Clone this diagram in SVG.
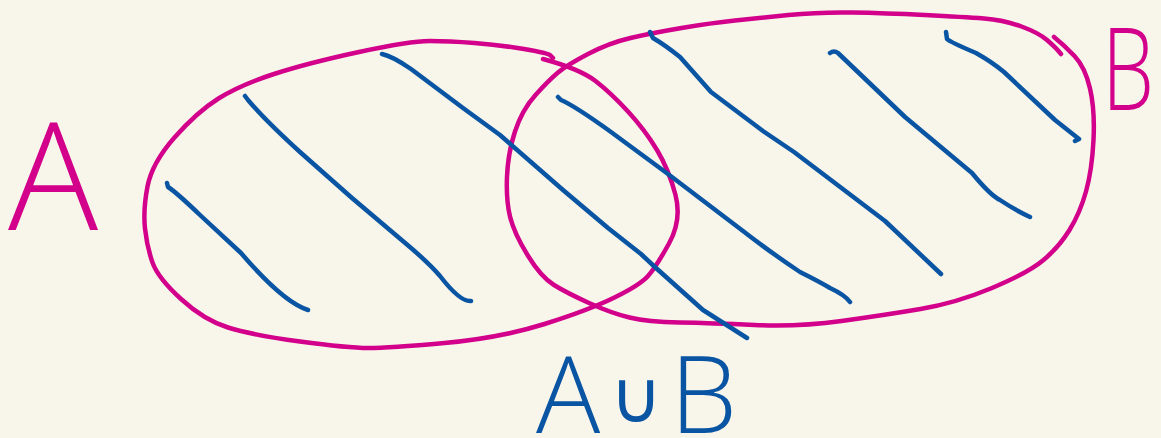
<svg xmlns="http://www.w3.org/2000/svg" width="1161" height="438" viewBox="0 0 1161 438">
<style>
.pink{fill:none;stroke:#d2008a;stroke-width:4.5;stroke-linecap:round;stroke-linejoin:round}
.blue{fill:none;stroke:#0a55a3;stroke-width:4.5;stroke-linecap:round;stroke-linejoin:round}
.lp{fill:#d2008a;font-family:"Open Sans","Liberation Sans",sans-serif;font-weight:300}
.lb{fill:#0a55a3;font-family:"Open Sans","Liberation Sans",sans-serif;font-weight:300;font-size:107px}
.cup{font-family:"DejaVu Sans",sans-serif;font-weight:normal;font-size:72px}
</style>
<rect width="1161" height="438" fill="#f8f6ea"/>
<g id="setA">
<path class="pink" d="M553,58 L550.5,55.5 Q548,53 524,49 Q500,45 474.5,43 Q449,41 429.5,41 Q410,41 359,52 Q308,63 274,74 Q240,85 218.5,98.5 Q197,112 174.5,137.5 Q152,163 147.5,186.5 Q143,210 145,228.5 Q147,247 152.5,262.5 Q158,278 181,299 Q204,320 228,327.5 Q252,335 300,341.5 Q348,348 368.5,348 Q389,348 444.5,343 Q500,338 544.5,324 Q589,310 614.5,297.5 Q640,285 648,276 Q656,267 669,243.5 Q682,220 675.5,195 Q669,170 657,150 Q645,130 628,111.5 Q611,93 595.5,81 Q580,69 543,59"/>
<text class="lp" x="8" y="230" font-size="150">A</text>
</g>
<g id="setB">
<path class="pink" d="M1061,54 L1058,50.5 Q1055,47 1047,40 Q1039,33 1021.5,26.5 Q1004,20 984,18.5 Q964,17 924.5,15 Q885,13 851.5,12.5 Q818,12 788.5,15 Q759,18 735,20.5 Q711,23 681.5,28 Q652,33 630.5,38 Q609,43 588,54 Q567,65 558,72.5 Q549,80 535.5,95 Q522,110 515,131.5 Q508,153 507,176.5 Q506,200 510,216.5 Q514,233 527.5,255 Q541,277 554,285 Q567,293 589,303 Q611,313 629.5,317.5 Q648,322 679.5,322.5 Q711,323 754.5,325 Q798,327 841.5,321 Q885,315 920.5,309 Q956,303 992,288 Q1028,273 1043.5,260 Q1059,247 1069.5,230 Q1080,213 1086,191.5 Q1092,170 1093.5,140 Q1095,110 1090,88.5 Q1085,67 1074.5,56 Q1064,45 1054,37"/>
<text class="lp" x="1102" y="110" font-size="115" textLength="52" lengthAdjust="spacingAndGlyphs">B</text>
</g>
<g id="union">
<text class="lb" x="536" y="433">A<tspan class="cup" x="610" y="422">∪</tspan><tspan x="670" y="433">B</tspan></text>
</g>
<g id="hatching">
<path class="blue" d="M167,183 L168,187 Q176,192 200,215 L241,253 Q283,302 308,310"/>
<path class="blue" d="M245,96 L248,100 Q265,120 300,152 L352,198 L404,242 Q428,262 440,276 Q460,302 471,301"/>
<path class="blue" d="M382,54 Q392,56 411,69 L463,108 L500,135 L563,190 L608,228 L641,254 L656,268 L703,310 L747,338"/>
<path class="blue" d="M558,97 L561,100 Q575,106 611,132 L668,174 L743,231 Q770,252 800,272 Q820,282 830,288 Q845,295 850,302"/>
<path class="blue" d="M650,32 L653,38 Q665,45 680,57 L711,92 L763,131 L794,152 L885,221 L941,274"/>
<path class="blue" d="M830,53 Q834,50 838,53 L905,117 L972,173 Q990,195 1000,200 Q1015,210 1030,217"/>
<path class="blue" d="M946,32 L947,39 Q950,42 976,53 Q992,62 1004,72 L1055,120 L1079,139 L1075,141"/>
</g>
</svg>
